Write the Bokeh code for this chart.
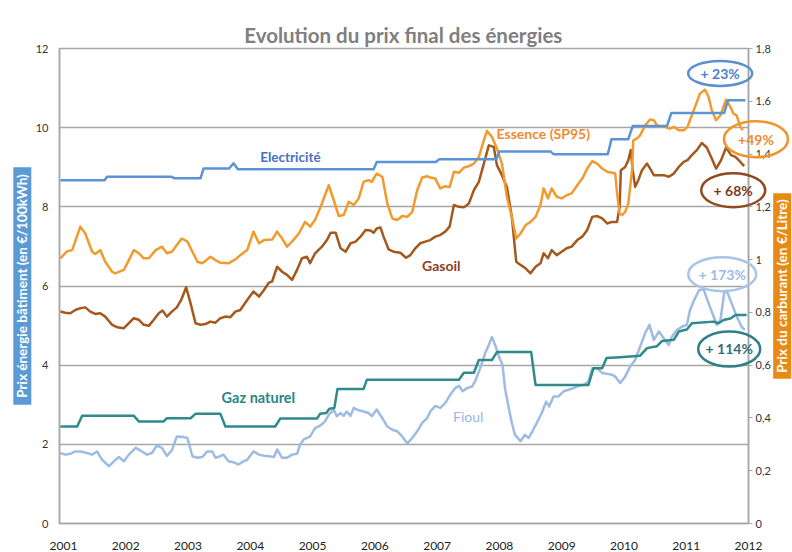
import math
from bokeh.plotting import figure
from bokeh.models import Range1d, LinearAxis, FixedTicker, CustomJSTickFormatter
from bokeh.embed import file_html
from bokeh.resources import INLINE
from bokeh.core.properties import value

# ---------------- data (decimal years) ----------------
years = [2001, 2002, 2003, 2004, 2005, 2006, 2007, 2008, 2009, 2010, 2011, 2012]
left_ticks = [0, 2, 4, 6, 8, 10, 12]
fuel_ticks = [0, 0.2, 0.4, 0.6, 0.8, 1.0, 1.2, 1.4, 1.6, 1.8]

# Electricité (€/100kWh, left axis)
elec_t = [2000.95, 2001.66, 2001.70, 2002.74, 2002.78, 2003.20, 2003.25, 2003.66, 2003.73, 2003.80,
          2005.98, 2006.03, 2006.98, 2007.03, 2007.95, 2008.00, 2008.82, 2008.87, 2009.74, 2009.80,
          2010.07, 2010.14, 2010.69, 2010.76, 2011.61, 2011.67, 2011.95]
elec_v = [8.67, 8.67, 8.76, 8.76, 8.72, 8.72, 8.97, 8.97, 9.10, 8.95,
          8.95, 9.13, 9.13, 9.20, 9.20, 9.40, 9.40, 9.33, 9.33, 9.71,
          9.71, 10.04, 10.04, 10.37, 10.37, 10.69, 10.69]

# Gaz naturel (€/100kWh, left axis)
gaz_t = [2000.95, 2001.22, 2001.30, 2002.13, 2002.21, 2002.61, 2002.66, 2003.04, 2003.12, 2003.52,
         2003.60, 2004.40, 2004.48, 2005.07, 2005.12, 2005.22, 2005.27, 2005.35, 2005.40, 2005.82,
         2005.87, 2007.35, 2007.43, 2007.59, 2007.67, 2007.88, 2007.96, 2008.51, 2008.58, 2009.43,
         2009.51, 2009.65, 2009.72, 2009.94, 2010.26, 2010.37, 2010.53, 2010.61, 2010.80, 2010.88,
         2011.01, 2011.09, 2011.44, 2011.52, 2011.60, 2011.71, 2011.79, 2011.97]
gaz_v = [2.45, 2.45, 2.72, 2.72, 2.58, 2.58, 2.66, 2.66, 2.77, 2.77,
         2.45, 2.45, 2.65, 2.65, 2.77, 2.79, 2.90, 2.92, 3.40, 3.40,
         3.63, 3.63, 3.81, 3.81, 4.13, 4.13, 4.33, 4.33, 3.50, 3.50,
         3.92, 3.92, 4.18, 4.20, 4.24, 4.43, 4.48, 4.61, 4.64, 4.85,
         4.90, 5.06, 5.10, 5.06, 5.14, 5.18, 5.27, 5.27]

# Fioul (€/100kWh, left axis)
fioul_t = [2000.95, 2001.03, 2001.11, 2001.19, 2001.27, 2001.38, 2001.46, 2001.54, 2001.62, 2001.73,
           2001.81, 2001.89, 2001.97, 2002.05, 2002.16, 2002.26, 2002.34, 2002.42, 2002.50, 2002.58,
           2002.66, 2002.74, 2002.82, 2002.90, 2002.99, 2003.07, 2003.15, 2003.23, 2003.31, 2003.39,
           2003.44, 2003.52, 2003.57, 2003.65, 2003.73, 2003.81, 2003.89, 2003.95, 2004.05, 2004.14,
           2004.22, 2004.30, 2004.38, 2004.43, 2004.51, 2004.59, 2004.67, 2004.75, 2004.80, 2004.86,
           2004.91, 2004.96, 2005.04, 2005.12, 2005.20, 2005.26, 2005.34, 2005.39, 2005.45, 2005.50,
           2005.55, 2005.61, 2005.66, 2005.74, 2005.82, 2005.90, 2005.95, 2006.03, 2006.12, 2006.20,
           2006.28, 2006.36, 2006.44, 2006.52, 2006.60, 2006.68, 2006.76, 2006.84, 2006.89, 2006.97,
           2007.05, 2007.13, 2007.21, 2007.29, 2007.35, 2007.41, 2007.48, 2007.56, 2007.61, 2007.69,
           2007.77, 2007.83, 2007.88, 2007.94, 2008.00, 2008.05, 2008.09, 2008.15, 2008.20, 2008.25,
           2008.34, 2008.41, 2008.47, 2008.53, 2008.60, 2008.68, 2008.75, 2008.80, 2008.87, 2008.95,
           2009.03, 2009.11, 2009.19, 2009.27, 2009.35, 2009.43, 2009.49, 2009.57, 2009.65, 2009.73,
           2009.81, 2009.86, 2009.94, 2010.02, 2010.10, 2010.18, 2010.26, 2010.34, 2010.41, 2010.48,
           2010.56, 2010.64, 2010.72, 2010.77, 2010.85, 2010.93, 2011.01, 2011.06, 2011.14, 2011.21,
           2011.28, 2011.36, 2011.44, 2011.49, 2011.55, 2011.61, 2011.65, 2011.73, 2011.81, 2011.89,
           2011.94]
fioul_v = [1.78, 1.74, 1.76, 1.82, 1.82, 1.78, 1.74, 1.82, 1.61, 1.45,
           1.57, 1.68, 1.57, 1.74, 1.91, 1.82, 1.74, 1.78, 1.97, 1.91,
           1.71, 1.85, 2.20, 2.19, 2.16, 1.70, 1.66, 1.68, 1.82, 1.82,
           1.66, 1.70, 1.74, 1.57, 1.55, 1.49, 1.57, 1.61, 1.82, 1.74,
           1.71, 1.70, 1.68, 1.87, 1.66, 1.66, 1.74, 1.76, 1.99, 2.13,
           2.16, 2.20, 2.41, 2.47, 2.58, 2.75, 2.87, 2.71, 2.79, 2.72,
           2.83, 2.72, 2.92, 2.86, 2.83, 2.79, 2.71, 2.88, 2.66, 2.45,
           2.37, 2.33, 2.20, 2.02, 2.16, 2.33, 2.54, 2.66, 2.83, 2.97,
           2.92, 3.04, 3.25, 3.42, 3.48, 3.34, 3.42, 3.46, 3.59, 3.92,
           4.30, 4.51, 4.71, 4.47, 4.18, 4.01, 3.42, 2.92, 2.54, 2.24,
           2.08, 2.24, 2.16, 2.33, 2.54, 2.79, 3.08, 2.96, 3.21, 3.21,
           3.34, 3.38, 3.42, 3.48, 3.50, 3.59, 3.92, 3.92, 3.80, 3.78,
           3.76, 3.71, 3.55, 3.71, 3.97, 4.13, 4.47, 4.81, 5.02, 4.64,
           4.85, 4.68, 4.51, 4.72, 4.89, 4.97, 5.02, 5.39, 5.69, 5.90,
           5.91, 5.56, 5.23, 5.02, 5.14, 5.83, 5.88, 5.56, 5.23, 4.97,
           4.89]

# Essence SP95 (€/litre, right axis)
essence_t = [2000.95, 2001.06, 2001.14, 2001.27, 2001.35, 2001.46, 2001.51, 2001.59, 2001.67, 2001.78,
             2001.83, 2001.97, 2002.05, 2002.13, 2002.21, 2002.29, 2002.37, 2002.48, 2002.58, 2002.66,
             2002.74, 2002.82, 2002.90, 2002.99, 2003.07, 2003.15, 2003.23, 2003.36, 2003.44, 2003.52,
             2003.65, 2003.76, 2003.84, 2003.95, 2004.05, 2004.14, 2004.22, 2004.35, 2004.43, 2004.51,
             2004.59, 2004.67, 2004.78, 2004.88, 2004.96, 2005.04, 2005.15, 2005.26, 2005.34, 2005.42,
             2005.50, 2005.58, 2005.66, 2005.74, 2005.82, 2005.90, 2005.95, 2006.03, 2006.12, 2006.20,
             2006.28, 2006.36, 2006.44, 2006.52, 2006.60, 2006.68, 2006.76, 2006.84, 2006.89, 2006.97,
             2007.05, 2007.13, 2007.20, 2007.27, 2007.35, 2007.43, 2007.51, 2007.59, 2007.67, 2007.75,
             2007.80, 2007.88, 2007.96, 2008.04, 2008.12, 2008.21, 2008.27, 2008.34, 2008.42, 2008.50,
             2008.58, 2008.66, 2008.71, 2008.78, 2008.84, 2008.92, 2009.00, 2009.08, 2009.16, 2009.25,
             2009.33, 2009.41, 2009.49, 2009.57, 2009.65, 2009.73, 2009.81, 2009.86, 2009.89, 2009.93,
             2009.97, 2010.02, 2010.07, 2010.13, 2010.15, 2010.21, 2010.26, 2010.34, 2010.42, 2010.48,
             2010.53, 2010.58, 2010.66, 2010.74, 2010.80, 2010.88, 2010.96, 2011.02, 2011.06, 2011.14,
             2011.22, 2011.30, 2011.36, 2011.41, 2011.48, 2011.55, 2011.64, 2011.71, 2011.76, 2011.81,
             2011.87, 2011.91]
essence_v = [1.005, 1.032, 1.036, 1.125, 1.099, 1.030, 1.021, 1.036, 0.992, 0.954,
             0.948, 0.961, 0.998, 1.036, 1.024, 1.005, 1.005, 1.036, 1.049, 1.024,
             1.030, 1.055, 1.080, 1.068, 1.030, 0.992, 0.986, 1.011, 0.998, 0.988,
             0.986, 1.001, 1.017, 1.036, 1.106, 1.062, 1.074, 1.076, 1.106, 1.080,
             1.049, 1.068, 1.099, 1.143, 1.125, 1.150, 1.213, 1.282, 1.225, 1.165,
             1.169, 1.219, 1.207, 1.232, 1.295, 1.301, 1.295, 1.326, 1.314, 1.213,
             1.156, 1.150, 1.165, 1.162, 1.181, 1.263, 1.311, 1.316, 1.311, 1.307,
             1.270, 1.278, 1.275, 1.333, 1.329, 1.349, 1.354, 1.364, 1.389, 1.452,
             1.488, 1.465, 1.421, 1.364, 1.238, 1.150, 1.080, 1.099, 1.131, 1.143,
             1.162, 1.207, 1.270, 1.232, 1.270, 1.238, 1.232, 1.244, 1.251, 1.282,
             1.307, 1.345, 1.373, 1.364, 1.345, 1.333, 1.329, 1.326, 1.251, 1.175,
             1.169, 1.181, 1.213, 1.339, 1.452, 1.459, 1.471, 1.509, 1.531, 1.528,
             1.509, 1.505, 1.503, 1.496, 1.503, 1.490, 1.490, 1.503, 1.528, 1.578,
             1.629, 1.644, 1.616, 1.566, 1.528, 1.547, 1.606, 1.578, 1.553, 1.547,
             1.503, 1.490]

# Gasoil (€/litre, right axis)
gasoil_t = [2000.95, 2001.03, 2001.11, 2001.19, 2001.27, 2001.35, 2001.43, 2001.51, 2001.59, 2001.67,
            2001.78, 2001.86, 2001.97, 2002.05, 2002.13, 2002.21, 2002.29, 2002.37, 2002.45, 2002.53,
            2002.59, 2002.66, 2002.74, 2002.82, 2002.89, 2002.97, 2003.04, 2003.12, 2003.20, 2003.28,
            2003.36, 2003.44, 2003.52, 2003.60, 2003.68, 2003.76, 2003.84, 2003.95, 2004.05, 2004.14,
            2004.22, 2004.30, 2004.35, 2004.43, 2004.51, 2004.59, 2004.67, 2004.75, 2004.83, 2004.91,
            2004.96, 2005.04, 2005.15, 2005.23, 2005.29, 2005.37, 2005.45, 2005.53, 2005.61, 2005.69,
            2005.77, 2005.85, 2005.93, 2005.98, 2006.03, 2006.09, 2006.14, 2006.22, 2006.30, 2006.41,
            2006.50, 2006.57, 2006.65, 2006.73, 2006.81, 2006.89, 2006.97, 2007.05, 2007.13, 2007.20,
            2007.27, 2007.35, 2007.43, 2007.51, 2007.59, 2007.67, 2007.75, 2007.83, 2007.91, 2007.96,
            2008.04, 2008.12, 2008.20, 2008.27, 2008.34, 2008.42, 2008.50, 2008.58, 2008.66, 2008.71,
            2008.78, 2008.84, 2008.92, 2009.00, 2009.08, 2009.16, 2009.25, 2009.33, 2009.41, 2009.49,
            2009.57, 2009.65, 2009.73, 2009.81, 2009.89, 2009.93, 2009.95, 2010.02, 2010.07, 2010.11,
            2010.14, 2010.18, 2010.23, 2010.29, 2010.37, 2010.42, 2010.48, 2010.56, 2010.64, 2010.72,
            2010.80, 2010.88, 2010.96, 2011.02, 2011.09, 2011.17, 2011.25, 2011.33, 2011.41, 2011.48,
            2011.56, 2011.64, 2011.72, 2011.79, 2011.87, 2011.93]
gasoil_v = [0.803, 0.799, 0.797, 0.809, 0.816, 0.819, 0.803, 0.794, 0.797, 0.784,
            0.753, 0.744, 0.740, 0.759, 0.778, 0.772, 0.753, 0.749, 0.772, 0.797,
            0.807, 0.784, 0.803, 0.819, 0.847, 0.895, 0.835, 0.759, 0.753, 0.756,
            0.765, 0.761, 0.778, 0.784, 0.782, 0.803, 0.809, 0.847, 0.879, 0.860,
            0.885, 0.913, 0.917, 0.973, 0.954, 0.942, 0.923, 0.961, 1.005, 1.011,
            0.986, 1.024, 1.049, 1.074, 1.102, 1.102, 1.043, 1.030, 1.062, 1.068,
            1.087, 1.112, 1.110, 1.102, 1.118, 1.122, 1.087, 1.039, 1.030, 1.026,
            1.007, 1.017, 1.043, 1.062, 1.068, 1.074, 1.087, 1.093, 1.106, 1.125,
            1.207, 1.200, 1.198, 1.213, 1.263, 1.295, 1.364, 1.433, 1.427, 1.358,
            1.320, 1.275, 1.162, 0.992, 0.980, 0.967, 0.948, 0.973, 0.986, 1.024,
            1.005, 1.036, 1.017, 1.030, 1.043, 1.049, 1.074, 1.087, 1.112, 1.162,
            1.165, 1.156, 1.137, 1.143, 1.143, 1.200, 1.339, 1.351, 1.377, 1.415,
            1.339, 1.276, 1.301, 1.339, 1.364, 1.345, 1.320, 1.320, 1.320, 1.314,
            1.326, 1.351, 1.370, 1.377, 1.396, 1.415, 1.442, 1.425, 1.383, 1.345,
            1.377, 1.425, 1.396, 1.389, 1.370, 1.354]

# ---------------- figure ----------------
GRID = "#A6A6A6"
p = figure(width=792, height=552, output_backend="svg", toolbar_location=None,
           x_range=Range1d(2000.936, 2012.0), y_range=Range1d(0, 12),
           min_border_left=59, min_border_right=44, min_border_top=48, min_border_bottom=28)
p.background_fill_color = "white"
p.border_fill_color = "white"
p.outline_line_color = GRID
p.outline_line_width = 1.5
p.extra_y_ranges = {"fuel": Range1d(0, 1.8)}

p.xgrid.grid_line_color = None
p.ygrid.grid_line_color = GRID
p.ygrid.grid_line_width = 1.5

TICK_FONT = "Lato"
p.xaxis.ticker = FixedTicker(ticks=years)
p.xaxis.axis_line_color = GRID
p.xaxis.axis_line_width = 1.5
p.xaxis.major_tick_line_color = None
p.xaxis.major_tick_out = 0
p.xaxis.minor_tick_line_color = None
p.xaxis.major_label_standoff = 18
p.xaxis.major_label_text_font = TICK_FONT
p.xaxis.major_label_text_font_size = "12px"
p.xaxis.major_label_text_color = "#222222"

p.yaxis.ticker = FixedTicker(ticks=left_ticks)
p.yaxis.axis_line_color = GRID
p.yaxis.axis_line_width = 1.5
p.yaxis.major_tick_line_color = None
p.yaxis.major_tick_out = 0
p.yaxis.minor_tick_line_color = None
p.yaxis.major_label_standoff = 11
p.yaxis.major_label_text_font = TICK_FONT
p.yaxis.major_label_text_font_size = "11px"
p.yaxis.major_label_text_color = "#333333"

ry = LinearAxis(y_range_name="fuel", ticker=FixedTicker(ticks=fuel_ticks),
                formatter=CustomJSTickFormatter(code="""
                    const r = Math.round(tick * 10) / 10;
                    return (r % 1 === 0) ? r.toFixed(0) : r.toFixed(1).replace('.', ',');
                """))
ry.axis_line_color = GRID
ry.axis_line_width = 1.5
ry.major_tick_line_color = GRID
ry.major_tick_out = 4
ry.major_tick_in = 0
ry.minor_tick_line_color = None
ry.major_label_standoff = 3
ry.major_label_text_font = TICK_FONT
ry.major_label_text_font_size = "11px"
ry.major_label_text_color = "#333333"
p.add_layout(ry, "right")

# ---------------- series ----------------
p.line(fioul_t, fioul_v, line_color="#9DBBE3", line_width=2.5, line_join="round")
p.line(gaz_t, gaz_v, line_color="#2F8A8C", line_width=2.5, line_join="round")
p.line(gasoil_t, gasoil_v, line_color="#A3581E", line_width=2.5, line_join="round", y_range_name="fuel")
p.line(essence_t, essence_v, line_color="#F29A2E", line_width=2.5, line_join="round", y_range_name="fuel")
p.line(elec_t, elec_v, line_color="#5B93D6", line_width=2.5, line_join="round")

FONT = "Lato"

def add_text(x, y, txt, color, size="14px", style="bold", angle=0.0, **kw):
    p.text(x=[x], y=[y], text=[txt], text_color=color, text_font=value(FONT),
           text_font_size=value(size), text_font_style=style, angle=angle,
           text_align="center", text_baseline="middle", level="overlay", **kw)

# title
add_text(2006.457, 12.35, "Evolution du prix final des énergies", "#7F7F7F", size="20.5px")

# series names
add_text(2004.644, 9.25, "Electricité", "#4472C4", size="13.5px")
add_text(2008.705, 9.86, "Essence (SP95)", "#EE8A2E")
add_text(2007.067, 6.53, "Gasoil", "#8E4024")
add_text(2004.13, 3.18, "Gaz naturel", "#2C8585", size="14.5px")
add_text(2007.50, 2.70, "Fioul", "#95B6E4", style="normal")

# axis titles inside coloured boxes
add_text(2000.339, 6.0, "Prix énergie bâtiment (en €/100kWh)", "white", size="13.5px",
         angle=math.pi / 2, background_fill_color="#5B9BD5",
         padding=dict(left=7, right=7, top=1, bottom=1))
add_text(2012.541, 6.0, "Prix du carburant (en €/Litre)", "white", size="13.5px",
         angle=math.pi / 2, background_fill_color="#E98A15",
         padding=dict(left=6, right=6, top=1, bottom=1))

# percentage call-outs
callouts = [
    (2011.545, 11.37, 64, 25, "+ 23%", "#5B8FD0", "#4F7FC8"),
    (2012.12, 9.71, 64, 36, "+49%", "#F0932B", "#EE8A2E"),
    (2011.754, 8.42, 64, 34, "+ 68%", "#8E4A1F", "#7A3A1A"),
    (2011.578, 6.30, 68, 34, "+ 173%", "#A8C4E8", "#9DBBE3"),
    (2011.69, 4.41, 62, 35, "+ 114%", "#2F7F86", "#2F6F7A"),
]
for cx, cy, w, h, txt, lc, tc in callouts:
    p.ellipse(x=[cx], y=[cy], width=w, height=h, width_units="screen", height_units="screen",
              fill_color=None, line_color=lc, line_width=2.5, level="overlay")
    add_text(cx, cy, txt, tc, size="14px")

open("out.html", "w").write(file_html(p, INLINE))
